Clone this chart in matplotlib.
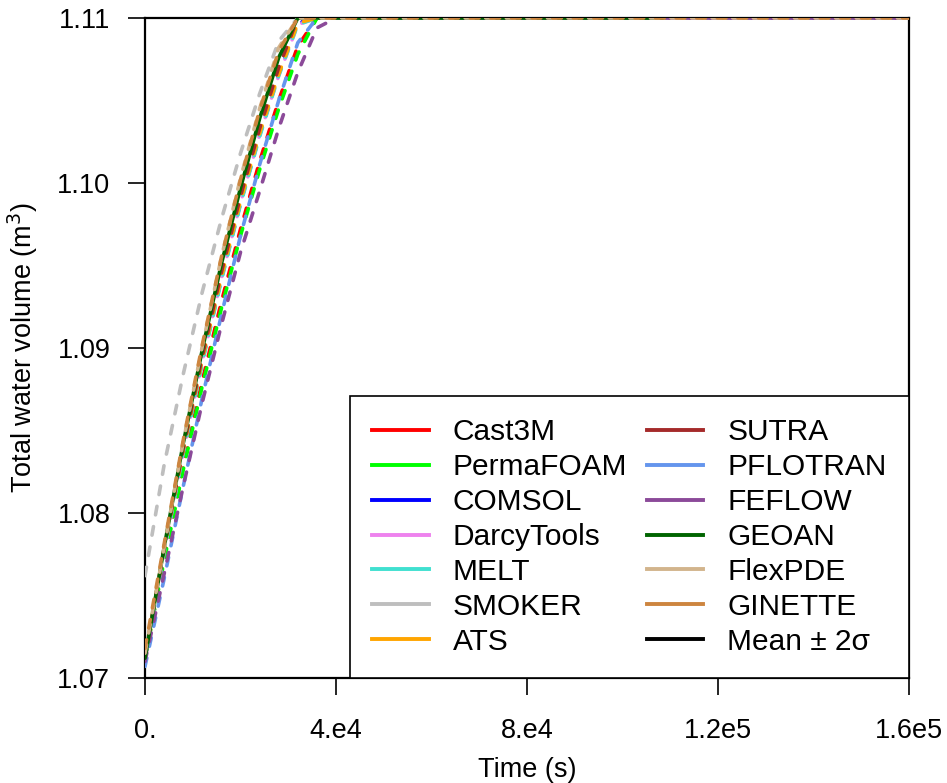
import matplotlib
matplotlib.use("Agg")
import matplotlib.pyplot as plt
from matplotlib.lines import Line2D

plt.rcParams['font.family'] = ['Liberation Sans', 'DejaVu Sans']

# time grid (s) shared by most codes
t = [0, 4e3, 8e3, 1.2e4, 1.6e4, 2e4, 2.4e4, 2.8e4, 3.2e4, 3.6e4, 4e4, 1.6e5]

# total water volume (m3)
cast3m     = [1.0712, 1.0772, 1.0828, 1.0880, 1.0928, 1.0972, 1.1013, 1.1050, 1.1083, 1.1100, 1.1100, 1.1100]
permafoam  = [1.0712, 1.0771, 1.0826, 1.0877, 1.0924, 1.0968, 1.1008, 1.1045, 1.1078, 1.1100, 1.1100, 1.1100]
comsol     = [1.0712, 1.0777, 1.0837, 1.0892, 1.0942, 1.0988, 1.1029, 1.1066, 1.1097, 1.1100, 1.1100, 1.1100]
darcytools = [1.0711, 1.0776, 1.0837, 1.0892, 1.0942, 1.0988, 1.1029, 1.1065, 1.1096, 1.1100, 1.1100, 1.1100]
melt       = [1.0712, 1.0777, 1.0836, 1.0891, 1.0941, 1.0987, 1.1028, 1.1065, 1.1096, 1.1100, 1.1100, 1.1100]
smoker     = [1.0762, 1.0829, 1.0884, 1.0934, 1.0978, 1.1018, 1.1054, 1.1086, 1.1100, 1.1100, 1.1100, 1.1100]
ats        = [1.0713, 1.0778, 1.0838, 1.0893, 1.0943, 1.0989, 1.1030, 1.1066, 1.1097, 1.1100, 1.1100, 1.1100]
sutra      = [1.0713, 1.0778, 1.0839, 1.0895, 1.0946, 1.0992, 1.1033, 1.1070, 1.1100, 1.1100, 1.1100, 1.1100]
pflotran   = [1.0707, 1.0760, 1.0816, 1.0870, 1.0920, 1.0968, 1.1011, 1.1050, 1.1085, 1.1100, 1.1100, 1.1100]
feflow     = [1.0710, 1.0763, 1.0816, 1.0867, 1.0914, 1.0958, 1.0995, 1.1033, 1.1067, 1.1094, 1.1100, 1.1100]
flexpde    = [1.0715, 1.0779, 1.0843, 1.0901, 1.0955, 1.1003, 1.1045, 1.1082, 1.1100, 1.1100, 1.1100, 1.1100]
ginette    = [1.0718, 1.0781, 1.0844, 1.0902, 1.0955, 1.1002, 1.1044, 1.1080, 1.1100, 1.1100, 1.1100, 1.1100]

# GEOAN stops earlier
t_geoan = [0, 4e3, 8e3, 1.2e4, 1.6e4, 2e4, 2.4e4, 2.8e4, 3.2e4, 1.085e5]
geoan   = [1.0712, 1.0779, 1.0842, 1.0899, 1.0951, 1.0997, 1.1039, 1.1076, 1.1100, 1.1100]

names = ['Cast3M', 'PermaFOAM', 'COMSOL', 'DarcyTools', 'MELT', 'SMOKER', 'ATS',
         'SUTRA', 'PFLOTRAN', 'FEFLOW', 'GEOAN', 'FlexPDE', 'GINETTE', 'Mean \u00b1 2\u03c3']
colors = ['#FF0000', '#00FF00', '#0000FF', '#EE82EE', '#40E0D0', '#BEBEBE', '#FFA500',
          '#A52A2A', '#6495ED', '#8B4A99', '#006400', '#D2B48C', '#CD853F', '#000000']
series = [cast3m, permafoam, comsol, darcytools, melt, smoker, ats,
          sutra, pflotran, feflow, None, flexpde, ginette]

xticks = [0, 4e4, 8e4, 1.2e5, 1.6e5]
xticklabels = ['0.', '4.e4', '8.e4', '1.2e5', '1.6e5']
yticks = [1.07, 1.08, 1.09, 1.10, 1.11]
yticklabels = ['1.07', '1.08', '1.09', '1.10', '1.11']

fig = plt.figure(figsize=(9.47, 7.83), dpi=100)
ax = fig.add_axes([0.1531, 0.1341, 0.8068, 0.8429])

lw = 2.6
for name, col, y in zip(names, colors, series):
    if name == 'GEOAN':
        ax.plot(t_geoan, geoan, color=col, lw=lw, solid_capstyle='round', zorder=3)
    else:
        ax.plot(t, y, color=col, lw=lw, dashes=(2.4, 3.3),
                dash_capstyle='round', zorder=3)

ax.set_xlim(0, 1.6e5)
ax.set_ylim(1.07, 1.11)
ax.set_xticks(xticks)
ax.set_xticklabels(xticklabels)
ax.set_yticks(yticks)
ax.set_yticklabels(yticklabels)
ax.tick_params(axis='both', direction='out', length=12, width=1.2, labelsize=19.5)
ax.tick_params(axis='x', pad=17)
ax.tick_params(axis='y', pad=13)
for s in ax.spines.values():
    s.set_linewidth(1.6)

ax.set_xlabel('Time (s)', fontsize=19.5, labelpad=9)
ax.set_ylabel('Total water volume (m$^3$)', fontsize=19.5, labelpad=12)

handles = [Line2D([], [], color=c, lw=2.8) for c in colors]
leg = ax.legend(handles, names, loc='lower right', ncol=2, fontsize=21.5,
                frameon=True, fancybox=False, edgecolor='black', framealpha=1,
                borderaxespad=0, borderpad=0.75, labelspacing=0.23,
                handlelength=1.9, handletextpad=0.8, columnspacing=0.65)
leg.get_frame().set_linewidth(1.2)
leg.set_zorder(5)

fig.savefig('out.png', dpi=100)
